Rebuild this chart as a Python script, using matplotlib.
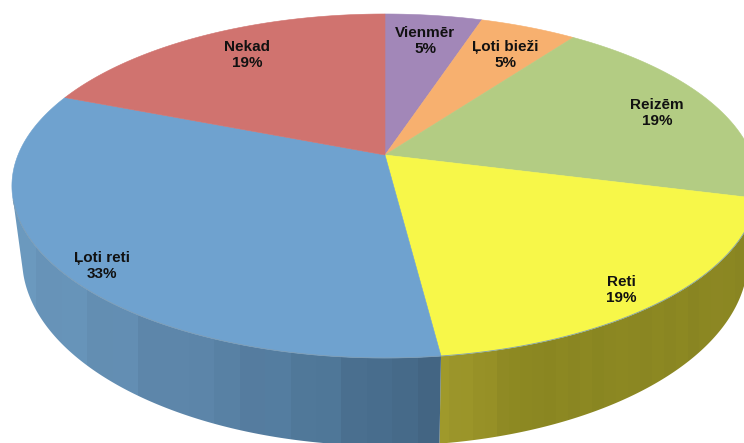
import numpy as np
import matplotlib
matplotlib.use("Agg")
import matplotlib.pyplot as plt
from matplotlib.patches import Polygon

labels = ["Vienmēr", "Ļoti bieži", "Reizēm", "Reti", "Ļoti reti", "Nekad"]
values = [5, 5, 19, 19, 33, 19]
top_colors = ["#A287B8", "#F7B06F", "#B3CC83", "#F7F749", "#6FA2CF", "#D0736F"]
label_xy = [(425, 41), (505, 55), (657, 113), (621, 290), (102, 266), (247, 55)]

K = 0.18


def project(t, A, B, X0, Y0):
    u, v = np.sin(t), np.cos(t)
    d = 1 + K * v
    return X0 + A * u / d, Y0 - B * v / d


def top(t):
    return project(t, 367, 166.4, 385, 155)


def bottom(t):
    return project(t, 357, 181, 385, 225)


fig = plt.figure(figsize=(7.44, 4.43), dpi=100)
ax = fig.add_axes([0, 0, 1, 1])
ax.set_xlim(0, 744)
ax.set_ylim(443, 0)
ax.axis("off")

edges = 2 * np.pi * np.cumsum([0] + values) / sum(values)

# side wall shading: vertical bands clipped to the wall outline
blue_x = [20, 150, 300, 440]
blue_rgb = np.array([[108, 154, 191], [96, 137, 174], [82, 122, 156], [66, 100, 130]]) / 255
yel_x = [440, 480, 520, 760]
yel_rgb = np.array([[160, 154, 44], [152, 146, 40], [140, 136, 34], [139, 135, 35]]) / 255
band = [1.0, 0.985, 1.01, 0.99, 1.015, 0.98, 1.0, 1.01]


def side(t0, t1, xs, rgb, bw, amp):
    tt = np.linspace(t0, t1, 200)
    x1, y1 = top(tt)
    x2, y2 = bottom(tt[::-1])
    poly = Polygon(np.c_[np.r_[x1, x2], np.r_[y1, y2]], closed=True, transform=ax.transData,
                   facecolor="none", edgecolor="none")
    ax.add_patch(poly)
    lo, hi = min(x1.min(), x2.min()) - 2, max(x1.max(), x2.max()) + 2
    n = int((hi - lo) / bw) + 1
    mids = lo + (np.arange(n) + 0.5) * (hi - lo) / n
    img = np.array([[np.interp(m, xs, rgb[:, j]) for j in range(3)] for m in mids])
    mult = np.array([1 + (band[i % len(band)] - 1) * amp for i in range(n)])
    img = np.clip(img * mult[:, None], 0, 1)[None, :, :]
    im = ax.imshow(img, extent=(lo, hi, 460, 150), aspect="auto", interpolation="nearest", zorder=1)
    im.set_clip_path(poly)


side(edges[3], edges[4], yel_x, yel_rgb, 12, 0.6)
side(edges[4], np.radians(255), blue_x, blue_rgb, 26, 1.0)
ax.set_xlim(0, 744)
ax.set_ylim(443, 0)

# top face
for i, col in enumerate(top_colors):
    tt = np.linspace(edges[i], edges[i + 1], 120)
    x, y = top(tt)
    ax.fill(np.r_[385, x], np.r_[155, y], facecolor=col, edgecolor=col, lw=0.4, zorder=2)

# thin rim line along the front
tt = np.linspace(edges[3], np.radians(255), 200)
ax.plot(*top(tt), color="#7E9DB5", lw=0.6, zorder=3)

for (x, y), name, val in zip(label_xy, labels, values):
    ax.text(x, y, f"{name}\n{val}%", ha="center", va="center", fontsize=11,
            fontweight="bold", family="Liberation Sans", color="#111111",
            linespacing=1.25, zorder=4)

fig.savefig("out.png", dpi=100)
